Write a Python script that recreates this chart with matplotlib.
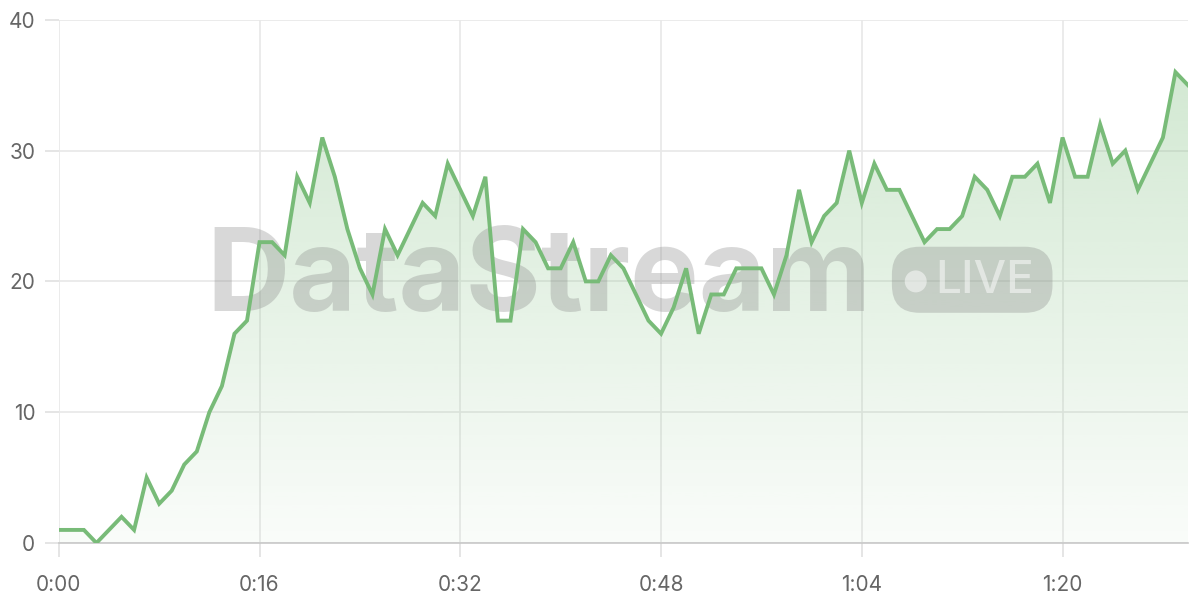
import numpy as np
import matplotlib.pyplot as plt
from matplotlib.patches import FancyBboxPatch, Ellipse
from matplotlib.colors import to_rgb

# one sample per second, 0..90
seconds = list(range(91))
values = [1, 1, 1, 0, 1, 2, 1, 5, 3, 4,
          6, 7, 10, 12, 16, 17, 23, 23, 22, 28,
          26, 31, 28, 24, 21, 19, 24, 22, 24, 26,
          25, 29, 27, 25, 28, 17, 17, 24, 23, 21,
          21, 23, 20, 20, 22, 21, 19, 17, 16, 18,
          21, 16, 19, 19, 21, 21, 21, 19, 22, 27,
          23, 25, 26, 30, 26, 29, 27, 27, 25, 23,
          24, 24, 25, 28, 27, 25, 28, 28, 29, 26,
          31, 28, 28, 32, 29, 30, 27, 29, 31, 36,
          35]
xticks = [0, 16, 32, 48, 64, 80]
xtick_labels = ["0:00", "0:16", "0:32", "0:48", "1:04", "1:20"]
yticks = [0, 10, 20, 30, 40]

line_color = "#78bb78"
text_color = "#666666"

fig = plt.figure(figsize=(12, 6), dpi=100)
ax = fig.add_axes([0.049, 0.095, 0.941, 0.872])

# gradient area under the line
poly = ax.fill_between(seconds, values, 0, color="none", lw=0)
r, g, b = to_rgb(line_color)
grad = np.zeros((256, 1, 4))
grad[:, 0, 0], grad[:, 0, 1], grad[:, 0, 2] = r, g, b
grad[:, 0, 3] = np.linspace(0.04, 0.36, 256)
img = ax.imshow(grad, extent=[0, 90, 0, 40], origin="lower", aspect="auto", zorder=1)
img.set_clip_path(poly.get_paths()[0], transform=ax.transData)

ax.plot(seconds, values, color=line_color, lw=2.8, zorder=4, solid_joinstyle="miter")

# watermark (data coords, roughly 12.5 px per unit on both axes)
ax.text(11.75, 20.0, "DataStream", fontsize=83,
        fontweight="bold", family="Inter", color="#808080", alpha=0.3,
        ha="left", va="center", zorder=3)
badge = FancyBboxPatch((66.4, 17.6), 12.8, 5.05,
                       boxstyle="round,pad=0,rounding_size=2.2",
                       mutation_aspect=0.96,
                       fc="#808080", ec="none", alpha=0.3, zorder=3)
ax.add_patch(badge)
ax.add_patch(Ellipse((68.3, 20.0), 1.75, 1.68, fc="white", ec="none",
                     alpha=0.5, zorder=3))
ax.text(73.8, 20.0, "LIVE", fontsize=33, family="Inter", fontweight="medium",
        color="white", alpha=0.5, ha="center", va="center", zorder=3)

ax.set_xlim(0, 90)
ax.set_ylim(0, 40)
ax.set_xticks(xticks)
ax.set_xticklabels(xtick_labels)
ax.set_yticks(yticks)
ax.grid(True, color="#e8e8e8", lw=1.2, zorder=0)
ax.set_axisbelow(True)
for s in ["top", "right", "left"]:
    ax.spines[s].set_visible(False)
ax.spines["bottom"].set_color("#c8c8c8")
ax.spines["bottom"].set_linewidth(1.2)
ax.tick_params(axis="both", colors="#e0e0e0", labelcolor=text_color,
               labelsize=15, length=10, width=1.2)
ax.tick_params(axis="x", pad=13)
ax.tick_params(axis="y", pad=7)
for lab in ax.get_xticklabels() + ax.get_yticklabels():
    lab.set_family("Inter")

fig.savefig("out.png", dpi=100)
